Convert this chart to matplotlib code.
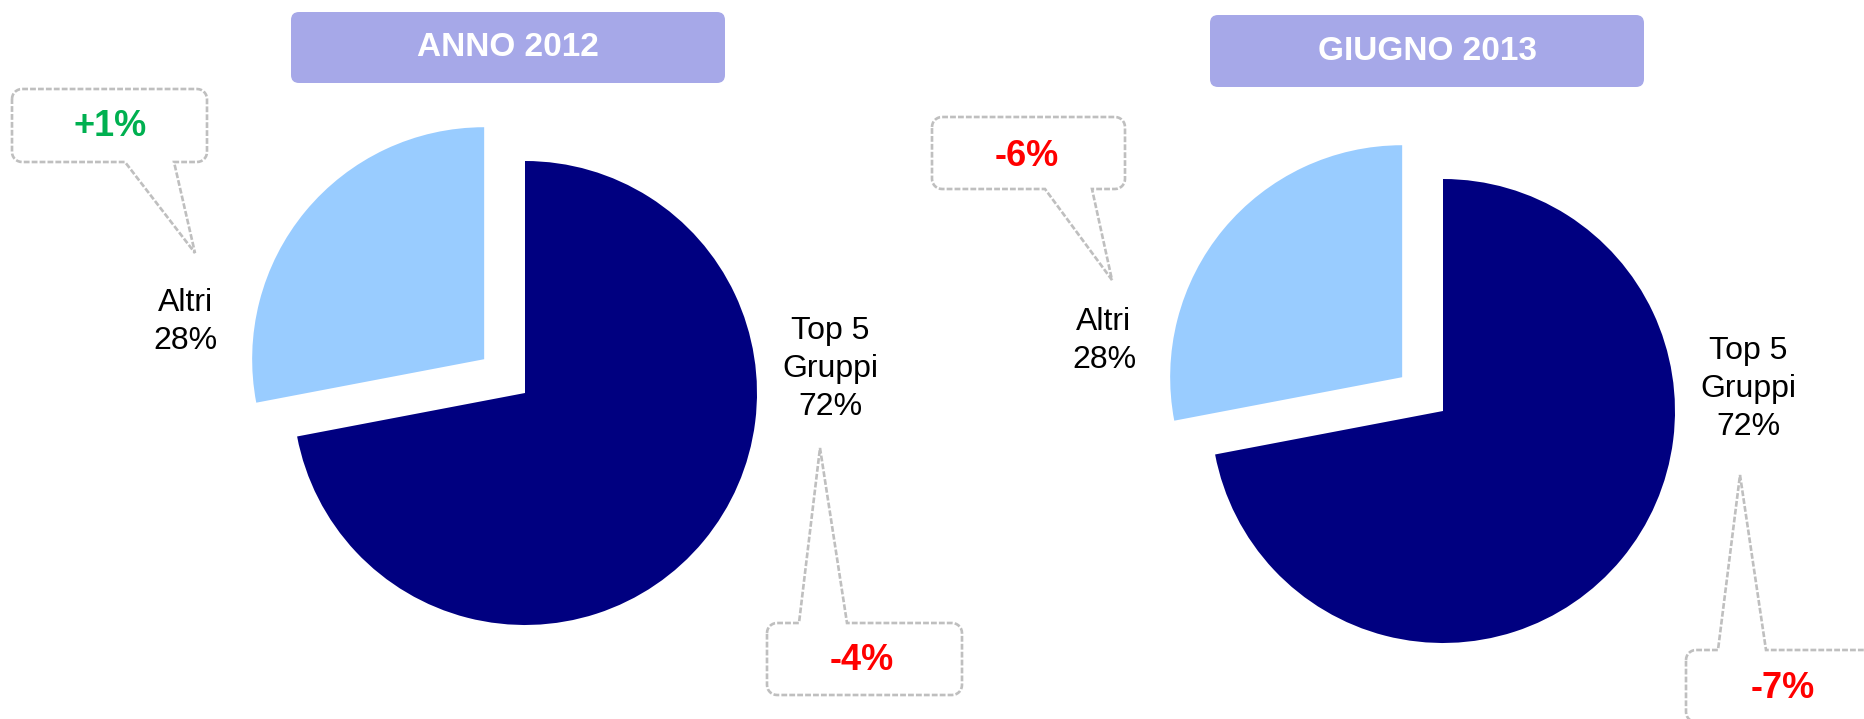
import numpy as np
import matplotlib
matplotlib.use('Agg')
import matplotlib.pyplot as plt
from matplotlib.patches import FancyBboxPatch, Polygon

plt.rcParams['font.family'] = ['Liberation Sans', 'DejaVu Sans']

# dati
periodi = ['ANNO 2012', 'GIUGNO 2013']
categorie = ['Top 5\nGruppi', 'Altri']
quote = [[72, 28], [72, 28]]          # % Top 5 Gruppi, % Altri
var_top5 = [-4, -7]                   # variazione Top 5 Gruppi
var_altri = [1, -6]                   # variazione Altri

colori = ['#000080', '#99CCFF']
W, H = 1864, 719

# posizioni in pixel (y verso il basso)
pannelli = [
    dict(centro=(525, 393), titolo=(291, 12, 434, 71),
         lbl_altri=(185, 322), lbl_top=(830, 369),
         box_altri=(12, 89, 195, 73), base_altri=(125, 174), punta_altri=(195, 253), txt_altri=(110, 126),
         box_top=(767, 623, 195, 72), base_top=(799, 847), punta_top=(820, 448), txt_top=(862, 660)),
    dict(centro=(1443, 411), titolo=(1210, 15, 434, 72),
         lbl_altri=(1104, 341), lbl_top=(1748, 389),
         box_altri=(932, 117, 193, 72), base_altri=(1045, 1092), punta_altri=(1112, 280), txt_altri=(1027, 156),
         box_top=(1686, 650, 195, 72), base_top=(1718, 1766), punta_top=(1740, 475), txt_top=(1783, 688)),
]


def fumetto(ax, box, base, punta, lato, r=10):
    # rettangolo arrotondato tratteggiato con la punta
    x0, y0, w, h = box
    x1, y1 = x0 + w, y0 + h

    def arco(cx, cy, a0, a1):
        t = np.radians(np.linspace(a0, a1, 8))
        return list(zip(cx + r * np.cos(t), cy + r * np.sin(t)))

    pts = arco(x0 + r, y0 + r, 180, 270)
    if lato == 'top':
        pts += [(base[0], y0), punta, (base[1], y0)]
    pts += arco(x1 - r, y0 + r, 270, 360)
    pts += arco(x1 - r, y1 - r, 0, 90)
    if lato == 'bottom':
        pts += [(base[1], y1), punta, (base[0], y1)]
    pts += arco(x0 + r, y1 - r, 90, 180)
    poly = Polygon([(x, H - y) for x, y in pts], closed=True, facecolor='white',
                   edgecolor='#BFBFBF', linewidth=1.9, linestyle=(0, (2.2, 0.8)))
    ax.add_patch(poly)


def colore_var(v):
    return '#00B050' if v > 0 else '#FF0000'


fig = plt.figure(figsize=(W / 100, H / 100), dpi=100)
ax = fig.add_axes([0, 0, 1, 1])

for i, p in enumerate(pannelli):
    cx, cy = p['centro']
    ax.pie(quote[i], startangle=90, counterclock=False, colors=colori,
           radius=232, center=(cx, H - cy), explode=[0, 53],
           wedgeprops=dict(linewidth=0))

    tx, ty, tw, th = p['titolo']
    ax.add_patch(FancyBboxPatch((tx, H - ty - th), tw, th,
                                boxstyle='round,pad=0,rounding_size=8',
                                facecolor='#A6A8E8', edgecolor='none'))
    ax.text(tx + tw / 2, H - ty - th / 2, periodi[i], ha='center', va='center',
            fontsize=24, fontweight='bold', color='white')

    x, y = p['lbl_top']
    ax.text(x, H - y, f"{categorie[0]}\n{quote[i][0]}%", ha='center', va='center',
            fontsize=23, linespacing=1.36)
    x, y = p['lbl_altri']
    ax.text(x, H - y, f"{categorie[1]}\n{quote[i][1]}%", ha='center', va='center',
            fontsize=23, linespacing=1.36)

    fumetto(ax, p['box_altri'], p['base_altri'], p['punta_altri'], 'bottom')
    x, y = p['txt_altri']
    ax.text(x, H - y, f"{var_altri[i]:+d}%", ha='center', va='center',
            fontsize=26, fontweight='bold', color=colore_var(var_altri[i]))

    fumetto(ax, p['box_top'], p['base_top'], p['punta_top'], 'top')
    x, y = p['txt_top']
    ax.text(x, H - y, f"{var_top5[i]:+d}%", ha='center', va='center',
            fontsize=26, fontweight='bold', color=colore_var(var_top5[i]))

ax.set_aspect('auto')
ax.set_xlim(0, W)
ax.set_ylim(0, H)
ax.axis('off')

fig.savefig('out.png', dpi=100)
